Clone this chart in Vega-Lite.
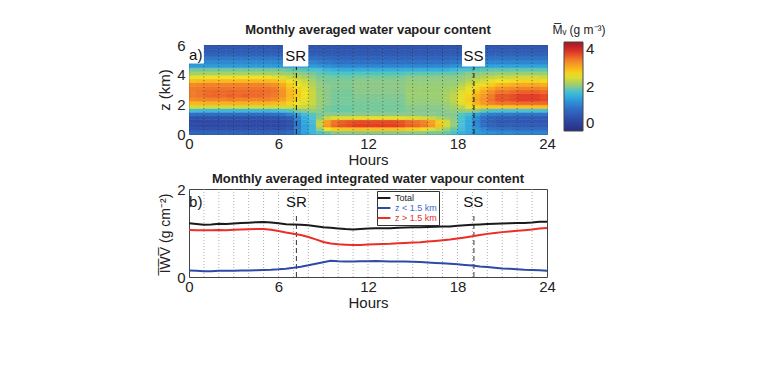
{
"$schema":"https://vega.github.io/schema/vega-lite/v6.json",
"padding":{"top":23,"left":157,"right":0,"bottom":0},
"spacing":4,
"config":{"font":"Liberation Sans","view":{"stroke":"#444","strokeWidth":1},
"axis":{"domain":false,"ticks":false,"grid":false,"labelFontSize":15,"titleFontSize":15,"titleFontWeight":"normal","labelColor":"#222","titleColor":"#222","labelFlush":false},
"title":{"fontSize":13,"fontWeight":"bold","color":"#222"}},
"resolve":{"scale":{"color":"independent","x":"independent","y":"independent"},"legend":{"color":"independent"}},
"datasets":{
"hrs":[{"t":1},{"t":2},{"t":3},{"t":4},{"t":5},{"t":6},{"t":7},{"t":8},{"t":9},{"t":10},{"t":11},{"t":12},{"t":13},{"t":14},{"t":15},{"t":16},{"t":17},{"t":18},{"t":19},{"t":20},{"t":21},{"t":22},{"t":23}],
"mk":[{"t":7.2,"lab":"SR"},{"t":19.1,"lab":"SS"}],
"box":[{"lab":"a)","x0":0,"x1":1.0,"y0":4.75,"y1":6,"tx":0.45,"ty":5.35},{"lab":"SR","x0":6.3,"x1":8.0,"y0":4.55,"y1":6,"tx":7.15,"ty":5.25},{"lab":"SS","x0":18.3,"x1":19.85,"y0":4.55,"y1":6,"tx":19.07,"ty":5.25}],
"lblb":[{"lab":"b)","tx":0.45,"ty":1.7},{"lab":"SR","tx":7.2,"ty":1.7},{"lab":"SS","tx":19.05,"ty":1.7}],
"iwv":[
{"t":0,"s":"Total","w":1.22},{"t":0.5,"s":"Total","w":1.205},{"t":1,"s":"Total","w":1.19},{"t":1.5,"s":"Total","w":1.195},{"t":2,"s":"Total","w":1.21},{"t":2.5,"s":"Total","w":1.205},{"t":3,"s":"Total","w":1.215},{"t":3.5,"s":"Total","w":1.225},{"t":4,"s":"Total","w":1.235},{"t":4.5,"s":"Total","w":1.245},{"t":5,"s":"Total","w":1.25},{"t":5.5,"s":"Total","w":1.24},{"t":6,"s":"Total","w":1.22},{"t":6.5,"s":"Total","w":1.2},{"t":7,"s":"Total","w":1.195},{"t":7.5,"s":"Total","w":1.19},{"t":8,"s":"Total","w":1.175},{"t":8.5,"s":"Total","w":1.155},{"t":9,"s":"Total","w":1.13},{"t":9.5,"s":"Total","w":1.12},{"t":10,"s":"Total","w":1.105},{"t":10.5,"s":"Total","w":1.09},{"t":11,"s":"Total","w":1.08},{"t":11.5,"s":"Total","w":1.09},{"t":12,"s":"Total","w":1.1},{"t":12.5,"s":"Total","w":1.11},{"t":13,"s":"Total","w":1.11},{"t":13.5,"s":"Total","w":1.11},{"t":14,"s":"Total","w":1.12},{"t":14.5,"s":"Total","w":1.125},{"t":15,"s":"Total","w":1.13},{"t":15.5,"s":"Total","w":1.13},{"t":16,"s":"Total","w":1.135},{"t":16.5,"s":"Total","w":1.14},{"t":17,"s":"Total","w":1.145},{"t":17.5,"s":"Total","w":1.15},{"t":18,"s":"Total","w":1.165},{"t":18.5,"s":"Total","w":1.175},{"t":19,"s":"Total","w":1.185},{"t":19.5,"s":"Total","w":1.195},{"t":20,"s":"Total","w":1.205},{"t":20.5,"s":"Total","w":1.21},{"t":21,"s":"Total","w":1.215},{"t":21.5,"s":"Total","w":1.22},{"t":22,"s":"Total","w":1.225},{"t":22.5,"s":"Total","w":1.23},{"t":23,"s":"Total","w":1.24},{"t":23.5,"s":"Total","w":1.255},{"t":24,"s":"Total","w":1.255},
{"t":0,"s":"z < 1.5 km","w":0.15},{"t":0.5,"s":"z < 1.5 km","w":0.14},{"t":1,"s":"z < 1.5 km","w":0.13},{"t":1.5,"s":"z < 1.5 km","w":0.13},{"t":2,"s":"z < 1.5 km","w":0.14},{"t":2.5,"s":"z < 1.5 km","w":0.14},{"t":3,"s":"z < 1.5 km","w":0.14},{"t":3.5,"s":"z < 1.5 km","w":0.145},{"t":4,"s":"z < 1.5 km","w":0.15},{"t":4.5,"s":"z < 1.5 km","w":0.155},{"t":5,"s":"z < 1.5 km","w":0.16},{"t":5.5,"s":"z < 1.5 km","w":0.165},{"t":6,"s":"z < 1.5 km","w":0.175},{"t":6.5,"s":"z < 1.5 km","w":0.19},{"t":7,"s":"z < 1.5 km","w":0.21},{"t":7.5,"s":"z < 1.5 km","w":0.235},{"t":8,"s":"z < 1.5 km","w":0.265},{"t":8.5,"s":"z < 1.5 km","w":0.3},{"t":9,"s":"z < 1.5 km","w":0.335},{"t":9.5,"s":"z < 1.5 km","w":0.37},{"t":10,"s":"z < 1.5 km","w":0.36},{"t":10.5,"s":"z < 1.5 km","w":0.355},{"t":11,"s":"z < 1.5 km","w":0.355},{"t":11.5,"s":"z < 1.5 km","w":0.36},{"t":12,"s":"z < 1.5 km","w":0.36},{"t":12.5,"s":"z < 1.5 km","w":0.365},{"t":13,"s":"z < 1.5 km","w":0.36},{"t":13.5,"s":"z < 1.5 km","w":0.355},{"t":14,"s":"z < 1.5 km","w":0.355},{"t":14.5,"s":"z < 1.5 km","w":0.35},{"t":15,"s":"z < 1.5 km","w":0.345},{"t":15.5,"s":"z < 1.5 km","w":0.34},{"t":16,"s":"z < 1.5 km","w":0.33},{"t":16.5,"s":"z < 1.5 km","w":0.32},{"t":17,"s":"z < 1.5 km","w":0.31},{"t":17.5,"s":"z < 1.5 km","w":0.3},{"t":18,"s":"z < 1.5 km","w":0.29},{"t":18.5,"s":"z < 1.5 km","w":0.275},{"t":19,"s":"z < 1.5 km","w":0.26},{"t":19.5,"s":"z < 1.5 km","w":0.24},{"t":20,"s":"z < 1.5 km","w":0.225},{"t":20.5,"s":"z < 1.5 km","w":0.21},{"t":21,"s":"z < 1.5 km","w":0.195},{"t":21.5,"s":"z < 1.5 km","w":0.185},{"t":22,"s":"z < 1.5 km","w":0.175},{"t":22.5,"s":"z < 1.5 km","w":0.165},{"t":23,"s":"z < 1.5 km","w":0.16},{"t":23.5,"s":"z < 1.5 km","w":0.155},{"t":24,"s":"z < 1.5 km","w":0.14},
{"t":0,"s":"z > 1.5 km","w":1.07},{"t":0.5,"s":"z > 1.5 km","w":1.065},{"t":1,"s":"z > 1.5 km","w":1.06},{"t":1.5,"s":"z > 1.5 km","w":1.065},{"t":2,"s":"z > 1.5 km","w":1.07},{"t":2.5,"s":"z > 1.5 km","w":1.065},{"t":3,"s":"z > 1.5 km","w":1.075},{"t":3.5,"s":"z > 1.5 km","w":1.08},{"t":4,"s":"z > 1.5 km","w":1.085},{"t":4.5,"s":"z > 1.5 km","w":1.09},{"t":5,"s":"z > 1.5 km","w":1.09},{"t":5.5,"s":"z > 1.5 km","w":1.075},{"t":6,"s":"z > 1.5 km","w":1.045},{"t":6.5,"s":"z > 1.5 km","w":1.01},{"t":7,"s":"z > 1.5 km","w":0.985},{"t":7.5,"s":"z > 1.5 km","w":0.955},{"t":8,"s":"z > 1.5 km","w":0.91},{"t":8.5,"s":"z > 1.5 km","w":0.855},{"t":9,"s":"z > 1.5 km","w":0.795},{"t":9.5,"s":"z > 1.5 km","w":0.76},{"t":10,"s":"z > 1.5 km","w":0.745},{"t":10.5,"s":"z > 1.5 km","w":0.735},{"t":11,"s":"z > 1.5 km","w":0.725},{"t":11.5,"s":"z > 1.5 km","w":0.73},{"t":12,"s":"z > 1.5 km","w":0.74},{"t":12.5,"s":"z > 1.5 km","w":0.745},{"t":13,"s":"z > 1.5 km","w":0.75},{"t":13.5,"s":"z > 1.5 km","w":0.755},{"t":14,"s":"z > 1.5 km","w":0.765},{"t":14.5,"s":"z > 1.5 km","w":0.775},{"t":15,"s":"z > 1.5 km","w":0.785},{"t":15.5,"s":"z > 1.5 km","w":0.79},{"t":16,"s":"z > 1.5 km","w":0.805},{"t":16.5,"s":"z > 1.5 km","w":0.82},{"t":17,"s":"z > 1.5 km","w":0.835},{"t":17.5,"s":"z > 1.5 km","w":0.85},{"t":18,"s":"z > 1.5 km","w":0.875},{"t":18.5,"s":"z > 1.5 km","w":0.9},{"t":19,"s":"z > 1.5 km","w":0.925},{"t":19.5,"s":"z > 1.5 km","w":0.955},{"t":20,"s":"z > 1.5 km","w":0.98},{"t":20.5,"s":"z > 1.5 km","w":1.0},{"t":21,"s":"z > 1.5 km","w":1.02},{"t":21.5,"s":"z > 1.5 km","w":1.035},{"t":22,"s":"z > 1.5 km","w":1.05},{"t":22.5,"s":"z > 1.5 km","w":1.065},{"t":23,"s":"z > 1.5 km","w":1.08},{"t":23.5,"s":"z > 1.5 km","w":1.1},{"t":24,"s":"z > 1.5 km","w":1.115}
],
"wv":[
{"t":0,"z":0,"v":0.9},{"t":0,"z":0.25,"v":0.62},{"t":0,"z":0.5,"v":0.52},{"t":0,"z":0.75,"v":0.52},{"t":0,"z":1,"v":0.62},{"t":0,"z":1.25,"v":1.0},{"t":0,"z":1.5,"v":1.7},{"t":0,"z":1.75,"v":2.35},{"t":0,"z":2,"v":2.8},{"t":0,"z":2.25,"v":3.1},{"t":0,"z":2.5,"v":3.2},{"t":0,"z":2.75,"v":3.2},{"t":0,"z":3,"v":3.2},{"t":0,"z":3.25,"v":3.1},{"t":0,"z":3.5,"v":2.75},{"t":0,"z":3.75,"v":2.45},{"t":0,"z":4,"v":2.15},{"t":0,"z":4.25,"v":1.95},{"t":0,"z":4.5,"v":1.4},{"t":0,"z":4.75,"v":1.25},{"t":0,"z":5,"v":1.1},{"t":0,"z":5.25,"v":0.85},{"t":0,"z":5.5,"v":0.72},{"t":0,"z":5.75,"v":0.68},
{"t":0.5,"z":0,"v":0.88},{"t":0.5,"z":0.25,"v":0.6},{"t":0.5,"z":0.5,"v":0.5},{"t":0.5,"z":0.75,"v":0.5},{"t":0.5,"z":1,"v":0.6},{"t":0.5,"z":1.25,"v":0.97},{"t":0.5,"z":1.5,"v":1.68},{"t":0.5,"z":1.75,"v":2.35},{"t":0.5,"z":2,"v":2.82},{"t":0.5,"z":2.25,"v":3.12},{"t":0.5,"z":2.5,"v":3.25},{"t":0.5,"z":2.75,"v":3.25},{"t":0.5,"z":3,"v":3.22},{"t":0.5,"z":3.25,"v":3.12},{"t":0.5,"z":3.5,"v":2.78},{"t":0.5,"z":3.75,"v":2.48},{"t":0.5,"z":4,"v":2.15},{"t":0.5,"z":4.25,"v":1.95},{"t":0.5,"z":4.5,"v":1.4},{"t":0.5,"z":4.75,"v":1.25},{"t":0.5,"z":5,"v":1.1},{"t":0.5,"z":5.25,"v":0.85},{"t":0.5,"z":5.5,"v":0.72},{"t":0.5,"z":5.75,"v":0.68},
{"t":1,"z":0,"v":0.85},{"t":1,"z":0.25,"v":0.6},{"t":1,"z":0.5,"v":0.5},{"t":1,"z":0.75,"v":0.5},{"t":1,"z":1,"v":0.6},{"t":1,"z":1.25,"v":0.95},{"t":1,"z":1.5,"v":1.65},{"t":1,"z":1.75,"v":2.35},{"t":1,"z":2,"v":2.85},{"t":1,"z":2.25,"v":3.15},{"t":1,"z":2.5,"v":3.3},{"t":1,"z":2.75,"v":3.3},{"t":1,"z":3,"v":3.25},{"t":1,"z":3.25,"v":3.15},{"t":1,"z":3.5,"v":2.8},{"t":1,"z":3.75,"v":2.5},{"t":1,"z":4,"v":2.15},{"t":1,"z":4.25,"v":1.95},{"t":1,"z":4.5,"v":1.4},{"t":1,"z":4.75,"v":1.25},{"t":1,"z":5,"v":1.1},{"t":1,"z":5.25,"v":0.85},{"t":1,"z":5.5,"v":0.72},{"t":1,"z":5.75,"v":0.68},
{"t":1.5,"z":0,"v":0.85},{"t":1.5,"z":0.25,"v":0.6},{"t":1.5,"z":0.5,"v":0.5},{"t":1.5,"z":0.75,"v":0.5},{"t":1.5,"z":1,"v":0.6},{"t":1.5,"z":1.25,"v":0.95},{"t":1.5,"z":1.5,"v":1.65},{"t":1.5,"z":1.75,"v":2.35},{"t":1.5,"z":2,"v":2.85},{"t":1.5,"z":2.25,"v":3.15},{"t":1.5,"z":2.5,"v":3.32},{"t":1.5,"z":2.75,"v":3.32},{"t":1.5,"z":3,"v":3.25},{"t":1.5,"z":3.25,"v":3.15},{"t":1.5,"z":3.5,"v":2.8},{"t":1.5,"z":3.75,"v":2.5},{"t":1.5,"z":4,"v":2.15},{"t":1.5,"z":4.25,"v":1.95},{"t":1.5,"z":4.5,"v":1.4},{"t":1.5,"z":4.75,"v":1.25},{"t":1.5,"z":5,"v":1.1},{"t":1.5,"z":5.25,"v":0.85},{"t":1.5,"z":5.5,"v":0.72},{"t":1.5,"z":5.75,"v":0.68},
{"t":2,"z":0,"v":0.85},{"t":2,"z":0.25,"v":0.6},{"t":2,"z":0.5,"v":0.5},{"t":2,"z":0.75,"v":0.5},{"t":2,"z":1,"v":0.6},{"t":2,"z":1.25,"v":0.95},{"t":2,"z":1.5,"v":1.65},{"t":2,"z":1.75,"v":2.35},{"t":2,"z":2,"v":2.85},{"t":2,"z":2.25,"v":3.15},{"t":2,"z":2.5,"v":3.3},{"t":2,"z":2.75,"v":3.3},{"t":2,"z":3,"v":3.25},{"t":2,"z":3.25,"v":3.15},{"t":2,"z":3.5,"v":2.8},{"t":2,"z":3.75,"v":2.5},{"t":2,"z":4,"v":2.15},{"t":2,"z":4.25,"v":1.95},{"t":2,"z":4.5,"v":1.4},{"t":2,"z":4.75,"v":1.25},{"t":2,"z":5,"v":1.1},{"t":2,"z":5.25,"v":0.85},{"t":2,"z":5.5,"v":0.72},{"t":2,"z":5.75,"v":0.68},
{"t":2.5,"z":0,"v":0.85},{"t":2.5,"z":0.25,"v":0.6},{"t":2.5,"z":0.5,"v":0.5},{"t":2.5,"z":0.75,"v":0.5},{"t":2.5,"z":1,"v":0.6},{"t":2.5,"z":1.25,"v":0.95},{"t":2.5,"z":1.5,"v":1.65},{"t":2.5,"z":1.75,"v":2.35},{"t":2.5,"z":2,"v":2.85},{"t":2.5,"z":2.25,"v":3.2},{"t":2.5,"z":2.5,"v":3.35},{"t":2.5,"z":2.75,"v":3.32},{"t":2.5,"z":3,"v":3.25},{"t":2.5,"z":3.25,"v":3.15},{"t":2.5,"z":3.5,"v":2.8},{"t":2.5,"z":3.75,"v":2.5},{"t":2.5,"z":4,"v":2.15},{"t":2.5,"z":4.25,"v":1.95},{"t":2.5,"z":4.5,"v":1.4},{"t":2.5,"z":4.75,"v":1.25},{"t":2.5,"z":5,"v":1.1},{"t":2.5,"z":5.25,"v":0.85},{"t":2.5,"z":5.5,"v":0.72},{"t":2.5,"z":5.75,"v":0.68},
{"t":3,"z":0,"v":0.85},{"t":3,"z":0.25,"v":0.6},{"t":3,"z":0.5,"v":0.5},{"t":3,"z":0.75,"v":0.5},{"t":3,"z":1,"v":0.6},{"t":3,"z":1.25,"v":0.95},{"t":3,"z":1.5,"v":1.65},{"t":3,"z":1.75,"v":2.35},{"t":3,"z":2,"v":2.85},{"t":3,"z":2.25,"v":3.15},{"t":3,"z":2.5,"v":3.3},{"t":3,"z":2.75,"v":3.3},{"t":3,"z":3,"v":3.25},{"t":3,"z":3.25,"v":3.15},{"t":3,"z":3.5,"v":2.8},{"t":3,"z":3.75,"v":2.5},{"t":3,"z":4,"v":2.15},{"t":3,"z":4.25,"v":1.95},{"t":3,"z":4.5,"v":1.4},{"t":3,"z":4.75,"v":1.25},{"t":3,"z":5,"v":1.1},{"t":3,"z":5.25,"v":0.85},{"t":3,"z":5.5,"v":0.72},{"t":3,"z":5.75,"v":0.68},
{"t":3.5,"z":0,"v":0.85},{"t":3.5,"z":0.25,"v":0.6},{"t":3.5,"z":0.5,"v":0.5},{"t":3.5,"z":0.75,"v":0.5},{"t":3.5,"z":1,"v":0.6},{"t":3.5,"z":1.25,"v":0.95},{"t":3.5,"z":1.5,"v":1.65},{"t":3.5,"z":1.75,"v":2.35},{"t":3.5,"z":2,"v":2.85},{"t":3.5,"z":2.25,"v":3.15},{"t":3.5,"z":2.5,"v":3.35},{"t":3.5,"z":2.75,"v":3.3},{"t":3.5,"z":3,"v":3.25},{"t":3.5,"z":3.25,"v":3.15},{"t":3.5,"z":3.5,"v":2.8},{"t":3.5,"z":3.75,"v":2.5},{"t":3.5,"z":4,"v":2.15},{"t":3.5,"z":4.25,"v":1.95},{"t":3.5,"z":4.5,"v":1.4},{"t":3.5,"z":4.75,"v":1.25},{"t":3.5,"z":5,"v":1.1},{"t":3.5,"z":5.25,"v":0.85},{"t":3.5,"z":5.5,"v":0.72},{"t":3.5,"z":5.75,"v":0.68},
{"t":4,"z":0,"v":0.85},{"t":4,"z":0.25,"v":0.6},{"t":4,"z":0.5,"v":0.5},{"t":4,"z":0.75,"v":0.5},{"t":4,"z":1,"v":0.6},{"t":4,"z":1.25,"v":0.95},{"t":4,"z":1.5,"v":1.65},{"t":4,"z":1.75,"v":2.35},{"t":4,"z":2,"v":2.85},{"t":4,"z":2.25,"v":3.15},{"t":4,"z":2.5,"v":3.3},{"t":4,"z":2.75,"v":3.3},{"t":4,"z":3,"v":3.25},{"t":4,"z":3.25,"v":3.15},{"t":4,"z":3.5,"v":2.8},{"t":4,"z":3.75,"v":2.5},{"t":4,"z":4,"v":2.15},{"t":4,"z":4.25,"v":1.95},{"t":4,"z":4.5,"v":1.4},{"t":4,"z":4.75,"v":1.25},{"t":4,"z":5,"v":1.1},{"t":4,"z":5.25,"v":0.85},{"t":4,"z":5.5,"v":0.72},{"t":4,"z":5.75,"v":0.68},
{"t":4.5,"z":0,"v":0.85},{"t":4.5,"z":0.25,"v":0.6},{"t":4.5,"z":0.5,"v":0.5},{"t":4.5,"z":0.75,"v":0.5},{"t":4.5,"z":1,"v":0.6},{"t":4.5,"z":1.25,"v":0.95},{"t":4.5,"z":1.5,"v":1.65},{"t":4.5,"z":1.75,"v":2.35},{"t":4.5,"z":2,"v":2.85},{"t":4.5,"z":2.25,"v":3.15},{"t":4.5,"z":2.5,"v":3.3},{"t":4.5,"z":2.75,"v":3.3},{"t":4.5,"z":3,"v":3.25},{"t":4.5,"z":3.25,"v":3.15},{"t":4.5,"z":3.5,"v":2.8},{"t":4.5,"z":3.75,"v":2.5},{"t":4.5,"z":4,"v":2.15},{"t":4.5,"z":4.25,"v":1.95},{"t":4.5,"z":4.5,"v":1.4},{"t":4.5,"z":4.75,"v":1.25},{"t":4.5,"z":5,"v":1.1},{"t":4.5,"z":5.25,"v":0.85},{"t":4.5,"z":5.5,"v":0.72},{"t":4.5,"z":5.75,"v":0.68},
{"t":5,"z":0,"v":0.85},{"t":5,"z":0.25,"v":0.6},{"t":5,"z":0.5,"v":0.5},{"t":5,"z":0.75,"v":0.5},{"t":5,"z":1,"v":0.6},{"t":5,"z":1.25,"v":0.95},{"t":5,"z":1.5,"v":1.65},{"t":5,"z":1.75,"v":2.35},{"t":5,"z":2,"v":2.85},{"t":5,"z":2.25,"v":3.15},{"t":5,"z":2.5,"v":3.25},{"t":5,"z":2.75,"v":3.28},{"t":5,"z":3,"v":3.25},{"t":5,"z":3.25,"v":3.1},{"t":5,"z":3.5,"v":2.8},{"t":5,"z":3.75,"v":2.5},{"t":5,"z":4,"v":2.15},{"t":5,"z":4.25,"v":1.95},{"t":5,"z":4.5,"v":1.4},{"t":5,"z":4.75,"v":1.25},{"t":5,"z":5,"v":1.1},{"t":5,"z":5.25,"v":0.85},{"t":5,"z":5.5,"v":0.72},{"t":5,"z":5.75,"v":0.68},
{"t":5.5,"z":0,"v":0.85},{"t":5.5,"z":0.25,"v":0.6},{"t":5.5,"z":0.5,"v":0.5},{"t":5.5,"z":0.75,"v":0.5},{"t":5.5,"z":1,"v":0.62},{"t":5.5,"z":1.25,"v":1.0},{"t":5.5,"z":1.5,"v":1.7},{"t":5.5,"z":1.75,"v":2.35},{"t":5.5,"z":2,"v":2.8},{"t":5.5,"z":2.25,"v":3.1},{"t":5.5,"z":2.5,"v":3.2},{"t":5.5,"z":2.75,"v":3.25},{"t":5.5,"z":3,"v":3.2},{"t":5.5,"z":3.25,"v":3.05},{"t":5.5,"z":3.5,"v":2.75},{"t":5.5,"z":3.75,"v":2.45},{"t":5.5,"z":4,"v":2.15},{"t":5.5,"z":4.25,"v":1.95},{"t":5.5,"z":4.5,"v":1.4},{"t":5.5,"z":4.75,"v":1.25},{"t":5.5,"z":5,"v":1.1},{"t":5.5,"z":5.25,"v":0.85},{"t":5.5,"z":5.5,"v":0.72},{"t":5.5,"z":5.75,"v":0.68},
{"t":6,"z":0,"v":0.88},{"t":6,"z":0.25,"v":0.62},{"t":6,"z":0.5,"v":0.52},{"t":6,"z":0.75,"v":0.52},{"t":6,"z":1,"v":0.65},{"t":6,"z":1.25,"v":1.05},{"t":6,"z":1.5,"v":1.75},{"t":6,"z":1.75,"v":2.35},{"t":6,"z":2,"v":2.75},{"t":6,"z":2.25,"v":2.95},{"t":6,"z":2.5,"v":3.05},{"t":6,"z":2.75,"v":3.05},{"t":6,"z":3,"v":3.0},{"t":6,"z":3.25,"v":2.9},{"t":6,"z":3.5,"v":2.65},{"t":6,"z":3.75,"v":2.4},{"t":6,"z":4,"v":2.1},{"t":6,"z":4.25,"v":1.95},{"t":6,"z":4.5,"v":1.4},{"t":6,"z":4.75,"v":1.25},{"t":6,"z":5,"v":1.1},{"t":6,"z":5.25,"v":0.85},{"t":6,"z":5.5,"v":0.72},{"t":6,"z":5.75,"v":0.68},
{"t":6.5,"z":0,"v":0.95},{"t":6.5,"z":0.25,"v":0.7},{"t":6.5,"z":0.5,"v":0.6},{"t":6.5,"z":0.75,"v":0.6},{"t":6.5,"z":1,"v":0.75},{"t":6.5,"z":1.25,"v":1.2},{"t":6.5,"z":1.5,"v":1.85},{"t":6.5,"z":1.75,"v":2.35},{"t":6.5,"z":2,"v":2.6},{"t":6.5,"z":2.25,"v":2.75},{"t":6.5,"z":2.5,"v":2.8},{"t":6.5,"z":2.75,"v":2.8},{"t":6.5,"z":3,"v":2.75},{"t":6.5,"z":3.25,"v":2.65},{"t":6.5,"z":3.5,"v":2.5},{"t":6.5,"z":3.75,"v":2.3},{"t":6.5,"z":4,"v":2.1},{"t":6.5,"z":4.25,"v":1.9},{"t":6.5,"z":4.5,"v":1.4},{"t":6.5,"z":4.75,"v":1.25},{"t":6.5,"z":5,"v":1.1},{"t":6.5,"z":5.25,"v":0.85},{"t":6.5,"z":5.5,"v":0.72},{"t":6.5,"z":5.75,"v":0.68},
{"t":7,"z":0,"v":1.2},{"t":7,"z":0.25,"v":1.15},{"t":7,"z":0.5,"v":1.1},{"t":7,"z":0.75,"v":1.1},{"t":7,"z":1,"v":1.2},{"t":7,"z":1.25,"v":1.45},{"t":7,"z":1.5,"v":1.95},{"t":7,"z":1.75,"v":2.35},{"t":7,"z":2,"v":2.5},{"t":7,"z":2.25,"v":2.6},{"t":7,"z":2.5,"v":2.65},{"t":7,"z":2.75,"v":2.65},{"t":7,"z":3,"v":2.6},{"t":7,"z":3.25,"v":2.5},{"t":7,"z":3.5,"v":2.4},{"t":7,"z":3.75,"v":2.25},{"t":7,"z":4,"v":2.05},{"t":7,"z":4.25,"v":1.9},{"t":7,"z":4.5,"v":1.4},{"t":7,"z":4.75,"v":1.25},{"t":7,"z":5,"v":1.1},{"t":7,"z":5.25,"v":0.85},{"t":7,"z":5.5,"v":0.72},{"t":7,"z":5.75,"v":0.68},
{"t":7.5,"z":0,"v":1.45},{"t":7.5,"z":0.25,"v":1.45},{"t":7.5,"z":0.5,"v":1.45},{"t":7.5,"z":0.75,"v":1.5},{"t":7.5,"z":1,"v":1.55},{"t":7.5,"z":1.25,"v":1.7},{"t":7.5,"z":1.5,"v":2.0},{"t":7.5,"z":1.75,"v":2.3},{"t":7.5,"z":2,"v":2.4},{"t":7.5,"z":2.25,"v":2.45},{"t":7.5,"z":2.5,"v":2.5},{"t":7.5,"z":2.75,"v":2.5},{"t":7.5,"z":3,"v":2.45},{"t":7.5,"z":3.25,"v":2.4},{"t":7.5,"z":3.5,"v":2.3},{"t":7.5,"z":3.75,"v":2.15},{"t":7.5,"z":4,"v":2.0},{"t":7.5,"z":4.25,"v":1.85},{"t":7.5,"z":4.5,"v":1.4},{"t":7.5,"z":4.75,"v":1.22},{"t":7.5,"z":5,"v":1.05},{"t":7.5,"z":5.25,"v":0.83},{"t":7.5,"z":5.5,"v":0.72},{"t":7.5,"z":5.75,"v":0.68},
{"t":8,"z":0,"v":1.65},{"t":8,"z":0.25,"v":1.65},{"t":8,"z":0.5,"v":1.65},{"t":8,"z":0.75,"v":1.7},{"t":8,"z":1,"v":1.75},{"t":8,"z":1.25,"v":1.85},{"t":8,"z":1.5,"v":2.05},{"t":8,"z":1.75,"v":2.2},{"t":8,"z":2,"v":2.3},{"t":8,"z":2.25,"v":2.3},{"t":8,"z":2.5,"v":2.3},{"t":8,"z":2.75,"v":2.3},{"t":8,"z":3,"v":2.25},{"t":8,"z":3.25,"v":2.2},{"t":8,"z":3.5,"v":2.15},{"t":8,"z":3.75,"v":2.05},{"t":8,"z":4,"v":1.95},{"t":8,"z":4.25,"v":1.8},{"t":8,"z":4.5,"v":1.38},{"t":8,"z":4.75,"v":1.2},{"t":8,"z":5,"v":1.0},{"t":8,"z":5.25,"v":0.8},{"t":8,"z":5.5,"v":0.7},{"t":8,"z":5.75,"v":0.66},
{"t":8.5,"z":0,"v":1.8},{"t":8.5,"z":0.25,"v":2.05},{"t":8.5,"z":0.5,"v":2.25},{"t":8.5,"z":0.75,"v":2.25},{"t":8.5,"z":1,"v":2.0},{"t":8.5,"z":1.25,"v":1.95},{"t":8.5,"z":1.5,"v":2.0},{"t":8.5,"z":1.75,"v":2.05},{"t":8.5,"z":2,"v":2.1},{"t":8.5,"z":2.25,"v":2.1},{"t":8.5,"z":2.5,"v":2.1},{"t":8.5,"z":2.75,"v":2.1},{"t":8.5,"z":3,"v":2.05},{"t":8.5,"z":3.25,"v":2.05},{"t":8.5,"z":3.5,"v":2.0},{"t":8.5,"z":3.75,"v":1.95},{"t":8.5,"z":4,"v":1.9},{"t":8.5,"z":4.25,"v":1.75},{"t":8.5,"z":4.5,"v":1.35},{"t":8.5,"z":4.75,"v":1.15},{"t":8.5,"z":5,"v":0.97},{"t":8.5,"z":5.25,"v":0.8},{"t":8.5,"z":5.5,"v":0.7},{"t":8.5,"z":5.75,"v":0.66},
{"t":9,"z":0,"v":1.9},{"t":9,"z":0.25,"v":2.5},{"t":9,"z":0.5,"v":3.0},{"t":9,"z":0.75,"v":2.95},{"t":9,"z":1,"v":2.3},{"t":9,"z":1.25,"v":2.0},{"t":9,"z":1.5,"v":1.95},{"t":9,"z":1.75,"v":1.95},{"t":9,"z":2,"v":2.0},{"t":9,"z":2.25,"v":2.0},{"t":9,"z":2.5,"v":2.0},{"t":9,"z":2.75,"v":2.0},{"t":9,"z":3,"v":2.0},{"t":9,"z":3.25,"v":2.0},{"t":9,"z":3.5,"v":1.95},{"t":9,"z":3.75,"v":1.95},{"t":9,"z":4,"v":1.85},{"t":9,"z":4.25,"v":1.65},{"t":9,"z":4.5,"v":1.3},{"t":9,"z":4.75,"v":1.1},{"t":9,"z":5,"v":0.93},{"t":9,"z":5.25,"v":0.78},{"t":9,"z":5.5,"v":0.7},{"t":9,"z":5.75,"v":0.65},
{"t":9.5,"z":0,"v":2.0},{"t":9.5,"z":0.25,"v":2.65},{"t":9.5,"z":0.5,"v":3.3},{"t":9.5,"z":0.75,"v":3.25},{"t":9.5,"z":1,"v":2.4},{"t":9.5,"z":1.25,"v":2.0},{"t":9.5,"z":1.5,"v":1.92},{"t":9.5,"z":1.75,"v":1.92},{"t":9.5,"z":2,"v":1.95},{"t":9.5,"z":2.25,"v":1.95},{"t":9.5,"z":2.5,"v":1.95},{"t":9.5,"z":2.75,"v":1.95},{"t":9.5,"z":3,"v":1.97},{"t":9.5,"z":3.25,"v":1.97},{"t":9.5,"z":3.5,"v":1.97},{"t":9.5,"z":3.75,"v":1.92},{"t":9.5,"z":4,"v":1.82},{"t":9.5,"z":4.25,"v":1.6},{"t":9.5,"z":4.5,"v":1.25},{"t":9.5,"z":4.75,"v":1.05},{"t":9.5,"z":5,"v":0.9},{"t":9.5,"z":5.25,"v":0.76},{"t":9.5,"z":5.5,"v":0.68},{"t":9.5,"z":5.75,"v":0.64},
{"t":10,"z":0,"v":2.0},{"t":10,"z":0.25,"v":2.7},{"t":10,"z":0.5,"v":3.4},{"t":10,"z":0.75,"v":3.35},{"t":10,"z":1,"v":2.4},{"t":10,"z":1.25,"v":2.0},{"t":10,"z":1.5,"v":1.92},{"t":10,"z":1.75,"v":1.92},{"t":10,"z":2,"v":1.95},{"t":10,"z":2.25,"v":1.95},{"t":10,"z":2.5,"v":1.95},{"t":10,"z":2.75,"v":1.95},{"t":10,"z":3,"v":1.97},{"t":10,"z":3.25,"v":1.97},{"t":10,"z":3.5,"v":1.97},{"t":10,"z":3.75,"v":1.92},{"t":10,"z":4,"v":1.82},{"t":10,"z":4.25,"v":1.55},{"t":10,"z":4.5,"v":1.22},{"t":10,"z":4.75,"v":1.03},{"t":10,"z":5,"v":0.88},{"t":10,"z":5.25,"v":0.75},{"t":10,"z":5.5,"v":0.68},{"t":10,"z":5.75,"v":0.64},
{"t":10.5,"z":0,"v":2.0},{"t":10.5,"z":0.25,"v":2.7},{"t":10.5,"z":0.5,"v":3.45},{"t":10.5,"z":0.75,"v":3.4},{"t":10.5,"z":1,"v":2.4},{"t":10.5,"z":1.25,"v":2.0},{"t":10.5,"z":1.5,"v":1.92},{"t":10.5,"z":1.75,"v":1.92},{"t":10.5,"z":2,"v":1.95},{"t":10.5,"z":2.25,"v":1.95},{"t":10.5,"z":2.5,"v":1.95},{"t":10.5,"z":2.75,"v":1.95},{"t":10.5,"z":3,"v":1.97},{"t":10.5,"z":3.25,"v":1.97},{"t":10.5,"z":3.5,"v":1.97},{"t":10.5,"z":3.75,"v":1.92},{"t":10.5,"z":4,"v":1.82},{"t":10.5,"z":4.25,"v":1.55},{"t":10.5,"z":4.5,"v":1.22},{"t":10.5,"z":4.75,"v":1.03},{"t":10.5,"z":5,"v":0.88},{"t":10.5,"z":5.25,"v":0.75},{"t":10.5,"z":5.5,"v":0.68},{"t":10.5,"z":5.75,"v":0.64},
{"t":11,"z":0,"v":2.0},{"t":11,"z":0.25,"v":2.75},{"t":11,"z":0.5,"v":3.5},{"t":11,"z":0.75,"v":3.45},{"t":11,"z":1,"v":2.45},{"t":11,"z":1.25,"v":2.0},{"t":11,"z":1.5,"v":1.95},{"t":11,"z":1.75,"v":1.95},{"t":11,"z":2,"v":1.95},{"t":11,"z":2.25,"v":1.97},{"t":11,"z":2.5,"v":1.97},{"t":11,"z":2.75,"v":2.0},{"t":11,"z":3,"v":2.0},{"t":11,"z":3.25,"v":2.0},{"t":11,"z":3.5,"v":2.0},{"t":11,"z":3.75,"v":1.95},{"t":11,"z":4,"v":1.85},{"t":11,"z":4.25,"v":1.58},{"t":11,"z":4.5,"v":1.22},{"t":11,"z":4.75,"v":1.03},{"t":11,"z":5,"v":0.88},{"t":11,"z":5.25,"v":0.75},{"t":11,"z":5.5,"v":0.68},{"t":11,"z":5.75,"v":0.64},
{"t":11.5,"z":0,"v":2.0},{"t":11.5,"z":0.25,"v":2.75},{"t":11.5,"z":0.5,"v":3.5},{"t":11.5,"z":0.75,"v":3.45},{"t":11.5,"z":1,"v":2.45},{"t":11.5,"z":1.25,"v":2.0},{"t":11.5,"z":1.5,"v":1.95},{"t":11.5,"z":1.75,"v":1.95},{"t":11.5,"z":2,"v":1.95},{"t":11.5,"z":2.25,"v":1.97},{"t":11.5,"z":2.5,"v":1.97},{"t":11.5,"z":2.75,"v":2.0},{"t":11.5,"z":3,"v":2.0},{"t":11.5,"z":3.25,"v":2.0},{"t":11.5,"z":3.5,"v":2.0},{"t":11.5,"z":3.75,"v":1.95},{"t":11.5,"z":4,"v":1.85},{"t":11.5,"z":4.25,"v":1.58},{"t":11.5,"z":4.5,"v":1.22},{"t":11.5,"z":4.75,"v":1.03},{"t":11.5,"z":5,"v":0.88},{"t":11.5,"z":5.25,"v":0.75},{"t":11.5,"z":5.5,"v":0.68},{"t":11.5,"z":5.75,"v":0.64},
{"t":12,"z":0,"v":2.0},{"t":12,"z":0.25,"v":2.75},{"t":12,"z":0.5,"v":3.5},{"t":12,"z":0.75,"v":3.45},{"t":12,"z":1,"v":2.45},{"t":12,"z":1.25,"v":2.0},{"t":12,"z":1.5,"v":1.95},{"t":12,"z":1.75,"v":1.95},{"t":12,"z":2,"v":1.95},{"t":12,"z":2.25,"v":1.97},{"t":12,"z":2.5,"v":1.97},{"t":12,"z":2.75,"v":2.0},{"t":12,"z":3,"v":2.0},{"t":12,"z":3.25,"v":2.0},{"t":12,"z":3.5,"v":2.0},{"t":12,"z":3.75,"v":1.95},{"t":12,"z":4,"v":1.85},{"t":12,"z":4.25,"v":1.58},{"t":12,"z":4.5,"v":1.22},{"t":12,"z":4.75,"v":1.03},{"t":12,"z":5,"v":0.88},{"t":12,"z":5.25,"v":0.75},{"t":12,"z":5.5,"v":0.68},{"t":12,"z":5.75,"v":0.64},
{"t":12.5,"z":0,"v":2.0},{"t":12.5,"z":0.25,"v":2.75},{"t":12.5,"z":0.5,"v":3.5},{"t":12.5,"z":0.75,"v":3.45},{"t":12.5,"z":1,"v":2.45},{"t":12.5,"z":1.25,"v":2.0},{"t":12.5,"z":1.5,"v":1.95},{"t":12.5,"z":1.75,"v":1.95},{"t":12.5,"z":2,"v":1.95},{"t":12.5,"z":2.25,"v":1.97},{"t":12.5,"z":2.5,"v":1.97},{"t":12.5,"z":2.75,"v":2.0},{"t":12.5,"z":3,"v":2.0},{"t":12.5,"z":3.25,"v":2.0},{"t":12.5,"z":3.5,"v":2.0},{"t":12.5,"z":3.75,"v":1.95},{"t":12.5,"z":4,"v":1.85},{"t":12.5,"z":4.25,"v":1.58},{"t":12.5,"z":4.5,"v":1.22},{"t":12.5,"z":4.75,"v":1.03},{"t":12.5,"z":5,"v":0.88},{"t":12.5,"z":5.25,"v":0.75},{"t":12.5,"z":5.5,"v":0.68},{"t":12.5,"z":5.75,"v":0.64},
{"t":13,"z":0,"v":2.0},{"t":13,"z":0.25,"v":2.75},{"t":13,"z":0.5,"v":3.5},{"t":13,"z":0.75,"v":3.45},{"t":13,"z":1,"v":2.45},{"t":13,"z":1.25,"v":2.0},{"t":13,"z":1.5,"v":1.95},{"t":13,"z":1.75,"v":1.95},{"t":13,"z":2,"v":1.95},{"t":13,"z":2.25,"v":1.97},{"t":13,"z":2.5,"v":1.97},{"t":13,"z":2.75,"v":2.0},{"t":13,"z":3,"v":2.0},{"t":13,"z":3.25,"v":2.0},{"t":13,"z":3.5,"v":2.0},{"t":13,"z":3.75,"v":1.95},{"t":13,"z":4,"v":1.85},{"t":13,"z":4.25,"v":1.58},{"t":13,"z":4.5,"v":1.22},{"t":13,"z":4.75,"v":1.03},{"t":13,"z":5,"v":0.88},{"t":13,"z":5.25,"v":0.75},{"t":13,"z":5.5,"v":0.68},{"t":13,"z":5.75,"v":0.64},
{"t":13.5,"z":0,"v":2.0},{"t":13.5,"z":0.25,"v":2.75},{"t":13.5,"z":0.5,"v":3.5},{"t":13.5,"z":0.75,"v":3.45},{"t":13.5,"z":1,"v":2.45},{"t":13.5,"z":1.25,"v":2.0},{"t":13.5,"z":1.5,"v":1.95},{"t":13.5,"z":1.75,"v":1.95},{"t":13.5,"z":2,"v":1.95},{"t":13.5,"z":2.25,"v":1.97},{"t":13.5,"z":2.5,"v":1.97},{"t":13.5,"z":2.75,"v":2.0},{"t":13.5,"z":3,"v":2.0},{"t":13.5,"z":3.25,"v":2.0},{"t":13.5,"z":3.5,"v":2.0},{"t":13.5,"z":3.75,"v":1.95},{"t":13.5,"z":4,"v":1.85},{"t":13.5,"z":4.25,"v":1.58},{"t":13.5,"z":4.5,"v":1.22},{"t":13.5,"z":4.75,"v":1.03},{"t":13.5,"z":5,"v":0.88},{"t":13.5,"z":5.25,"v":0.75},{"t":13.5,"z":5.5,"v":0.68},{"t":13.5,"z":5.75,"v":0.64},
{"t":14,"z":0,"v":2.0},{"t":14,"z":0.25,"v":2.72},{"t":14,"z":0.5,"v":3.45},{"t":14,"z":0.75,"v":3.4},{"t":14,"z":1,"v":2.45},{"t":14,"z":1.25,"v":2.0},{"t":14,"z":1.5,"v":1.95},{"t":14,"z":1.75,"v":1.95},{"t":14,"z":2,"v":1.95},{"t":14,"z":2.25,"v":1.97},{"t":14,"z":2.5,"v":1.97},{"t":14,"z":2.75,"v":2.0},{"t":14,"z":3,"v":2.0},{"t":14,"z":3.25,"v":2.0},{"t":14,"z":3.5,"v":2.0},{"t":14,"z":3.75,"v":1.95},{"t":14,"z":4,"v":1.85},{"t":14,"z":4.25,"v":1.58},{"t":14,"z":4.5,"v":1.22},{"t":14,"z":4.75,"v":1.03},{"t":14,"z":5,"v":0.88},{"t":14,"z":5.25,"v":0.75},{"t":14,"z":5.5,"v":0.68},{"t":14,"z":5.75,"v":0.64},
{"t":14.5,"z":0,"v":2.0},{"t":14.5,"z":0.25,"v":2.65},{"t":14.5,"z":0.5,"v":3.35},{"t":14.5,"z":0.75,"v":3.3},{"t":14.5,"z":1,"v":2.4},{"t":14.5,"z":1.25,"v":2.0},{"t":14.5,"z":1.5,"v":1.98},{"t":14.5,"z":1.75,"v":2.0},{"t":14.5,"z":2,"v":2.05},{"t":14.5,"z":2.25,"v":2.08},{"t":14.5,"z":2.5,"v":2.1},{"t":14.5,"z":2.75,"v":2.1},{"t":14.5,"z":3,"v":2.1},{"t":14.5,"z":3.25,"v":2.08},{"t":14.5,"z":3.5,"v":2.05},{"t":14.5,"z":3.75,"v":2.0},{"t":14.5,"z":4,"v":1.88},{"t":14.5,"z":4.25,"v":1.6},{"t":14.5,"z":4.5,"v":1.22},{"t":14.5,"z":4.75,"v":1.03},{"t":14.5,"z":5,"v":0.88},{"t":14.5,"z":5.25,"v":0.75},{"t":14.5,"z":5.5,"v":0.68},{"t":14.5,"z":5.75,"v":0.64},
{"t":15,"z":0,"v":2.0},{"t":15,"z":0.25,"v":2.62},{"t":15,"z":0.5,"v":3.3},{"t":15,"z":0.75,"v":3.25},{"t":15,"z":1,"v":2.4},{"t":15,"z":1.25,"v":2.0},{"t":15,"z":1.5,"v":1.98},{"t":15,"z":1.75,"v":2.0},{"t":15,"z":2,"v":2.05},{"t":15,"z":2.25,"v":2.08},{"t":15,"z":2.5,"v":2.1},{"t":15,"z":2.75,"v":2.1},{"t":15,"z":3,"v":2.1},{"t":15,"z":3.25,"v":2.08},{"t":15,"z":3.5,"v":2.05},{"t":15,"z":3.75,"v":2.0},{"t":15,"z":4,"v":1.88},{"t":15,"z":4.25,"v":1.6},{"t":15,"z":4.5,"v":1.22},{"t":15,"z":4.75,"v":1.03},{"t":15,"z":5,"v":0.88},{"t":15,"z":5.25,"v":0.75},{"t":15,"z":5.5,"v":0.68},{"t":15,"z":5.75,"v":0.64},
{"t":15.5,"z":0,"v":2.0},{"t":15.5,"z":0.25,"v":2.55},{"t":15.5,"z":0.5,"v":3.2},{"t":15.5,"z":0.75,"v":3.15},{"t":15.5,"z":1,"v":2.35},{"t":15.5,"z":1.25,"v":2.0},{"t":15.5,"z":1.5,"v":1.98},{"t":15.5,"z":1.75,"v":2.0},{"t":15.5,"z":2,"v":2.05},{"t":15.5,"z":2.25,"v":2.08},{"t":15.5,"z":2.5,"v":2.1},{"t":15.5,"z":2.75,"v":2.1},{"t":15.5,"z":3,"v":2.1},{"t":15.5,"z":3.25,"v":2.08},{"t":15.5,"z":3.5,"v":2.05},{"t":15.5,"z":3.75,"v":2.0},{"t":15.5,"z":4,"v":1.88},{"t":15.5,"z":4.25,"v":1.6},{"t":15.5,"z":4.5,"v":1.22},{"t":15.5,"z":4.75,"v":1.03},{"t":15.5,"z":5,"v":0.88},{"t":15.5,"z":5.25,"v":0.75},{"t":15.5,"z":5.5,"v":0.68},{"t":15.5,"z":5.75,"v":0.64},
{"t":16,"z":0,"v":1.95},{"t":16,"z":0.25,"v":2.4},{"t":16,"z":0.5,"v":3.0},{"t":16,"z":0.75,"v":2.95},{"t":16,"z":1,"v":2.3},{"t":16,"z":1.25,"v":2.0},{"t":16,"z":1.5,"v":1.98},{"t":16,"z":1.75,"v":2.0},{"t":16,"z":2,"v":2.05},{"t":16,"z":2.25,"v":2.08},{"t":16,"z":2.5,"v":2.1},{"t":16,"z":2.75,"v":2.1},{"t":16,"z":3,"v":2.1},{"t":16,"z":3.25,"v":2.08},{"t":16,"z":3.5,"v":2.05},{"t":16,"z":3.75,"v":2.0},{"t":16,"z":4,"v":1.88},{"t":16,"z":4.25,"v":1.6},{"t":16,"z":4.5,"v":1.23},{"t":16,"z":4.75,"v":1.03},{"t":16,"z":5,"v":0.88},{"t":16,"z":5.25,"v":0.75},{"t":16,"z":5.5,"v":0.68},{"t":16,"z":5.75,"v":0.64},
{"t":16.5,"z":0,"v":1.95},{"t":16.5,"z":0.25,"v":2.25},{"t":16.5,"z":0.5,"v":2.7},{"t":16.5,"z":0.75,"v":2.65},{"t":16.5,"z":1,"v":2.2},{"t":16.5,"z":1.25,"v":1.98},{"t":16.5,"z":1.5,"v":1.98},{"t":16.5,"z":1.75,"v":2.0},{"t":16.5,"z":2,"v":2.05},{"t":16.5,"z":2.25,"v":2.08},{"t":16.5,"z":2.5,"v":2.1},{"t":16.5,"z":2.75,"v":2.1},{"t":16.5,"z":3,"v":2.1},{"t":16.5,"z":3.25,"v":2.08},{"t":16.5,"z":3.5,"v":2.05},{"t":16.5,"z":3.75,"v":2.0},{"t":16.5,"z":4,"v":1.88},{"t":16.5,"z":4.25,"v":1.6},{"t":16.5,"z":4.5,"v":1.24},{"t":16.5,"z":4.75,"v":1.04},{"t":16.5,"z":5,"v":0.89},{"t":16.5,"z":5.25,"v":0.75},{"t":16.5,"z":5.5,"v":0.68},{"t":16.5,"z":5.75,"v":0.64},
{"t":17,"z":0,"v":1.9},{"t":17,"z":0.25,"v":2.1},{"t":17,"z":0.5,"v":2.35},{"t":17,"z":0.75,"v":2.35},{"t":17,"z":1,"v":2.1},{"t":17,"z":1.25,"v":1.98},{"t":17,"z":1.5,"v":2.0},{"t":17,"z":1.75,"v":2.05},{"t":17,"z":2,"v":2.1},{"t":17,"z":2.25,"v":2.15},{"t":17,"z":2.5,"v":2.15},{"t":17,"z":2.75,"v":2.15},{"t":17,"z":3,"v":2.12},{"t":17,"z":3.25,"v":2.08},{"t":17,"z":3.5,"v":2.05},{"t":17,"z":3.75,"v":2.0},{"t":17,"z":4,"v":1.9},{"t":17,"z":4.25,"v":1.62},{"t":17,"z":4.5,"v":1.25},{"t":17,"z":4.75,"v":1.05},{"t":17,"z":5,"v":0.9},{"t":17,"z":5.25,"v":0.76},{"t":17,"z":5.5,"v":0.69},{"t":17,"z":5.75,"v":0.65},
{"t":17.5,"z":0,"v":1.8},{"t":17.5,"z":0.25,"v":1.9},{"t":17.5,"z":0.5,"v":2.05},{"t":17.5,"z":0.75,"v":2.05},{"t":17.5,"z":1,"v":2.0},{"t":17.5,"z":1.25,"v":1.98},{"t":17.5,"z":1.5,"v":2.05},{"t":17.5,"z":1.75,"v":2.12},{"t":17.5,"z":2,"v":2.2},{"t":17.5,"z":2.25,"v":2.25},{"t":17.5,"z":2.5,"v":2.25},{"t":17.5,"z":2.75,"v":2.2},{"t":17.5,"z":3,"v":2.15},{"t":17.5,"z":3.25,"v":2.1},{"t":17.5,"z":3.5,"v":2.05},{"t":17.5,"z":3.75,"v":2.0},{"t":17.5,"z":4,"v":1.9},{"t":17.5,"z":4.25,"v":1.68},{"t":17.5,"z":4.5,"v":1.3},{"t":17.5,"z":4.75,"v":1.08},{"t":17.5,"z":5,"v":0.92},{"t":17.5,"z":5.25,"v":0.77},{"t":17.5,"z":5.5,"v":0.7},{"t":17.5,"z":5.75,"v":0.65},
{"t":18,"z":0,"v":1.6},{"t":18,"z":0.25,"v":1.7},{"t":18,"z":0.5,"v":1.75},{"t":18,"z":0.75,"v":1.75},{"t":18,"z":1,"v":1.8},{"t":18,"z":1.25,"v":1.85},{"t":18,"z":1.5,"v":2.05},{"t":18,"z":1.75,"v":2.25},{"t":18,"z":2,"v":2.4},{"t":18,"z":2.25,"v":2.45},{"t":18,"z":2.5,"v":2.45},{"t":18,"z":2.75,"v":2.4},{"t":18,"z":3,"v":2.3},{"t":18,"z":3.25,"v":2.2},{"t":18,"z":3.5,"v":2.1},{"t":18,"z":3.75,"v":2.05},{"t":18,"z":4,"v":1.95},{"t":18,"z":4.25,"v":1.75},{"t":18,"z":4.5,"v":1.35},{"t":18,"z":4.75,"v":1.12},{"t":18,"z":5,"v":0.95},{"t":18,"z":5.25,"v":0.8},{"t":18,"z":5.5,"v":0.7},{"t":18,"z":5.75,"v":0.66},
{"t":18.5,"z":0,"v":1.5},{"t":18.5,"z":0.25,"v":1.5},{"t":18.5,"z":0.5,"v":1.5},{"t":18.5,"z":0.75,"v":1.5},{"t":18.5,"z":1,"v":1.55},{"t":18.5,"z":1.25,"v":1.7},{"t":18.5,"z":1.5,"v":2.1},{"t":18.5,"z":1.75,"v":2.45},{"t":18.5,"z":2,"v":2.6},{"t":18.5,"z":2.25,"v":2.65},{"t":18.5,"z":2.5,"v":2.6},{"t":18.5,"z":2.75,"v":2.55},{"t":18.5,"z":3,"v":2.45},{"t":18.5,"z":3.25,"v":2.35},{"t":18.5,"z":3.5,"v":2.2},{"t":18.5,"z":3.75,"v":2.1},{"t":18.5,"z":4,"v":2.0},{"t":18.5,"z":4.25,"v":1.8},{"t":18.5,"z":4.5,"v":1.4},{"t":18.5,"z":4.75,"v":1.15},{"t":18.5,"z":5,"v":0.98},{"t":18.5,"z":5.25,"v":0.82},{"t":18.5,"z":5.5,"v":0.72},{"t":18.5,"z":5.75,"v":0.67},
{"t":19,"z":0,"v":1.4},{"t":19,"z":0.25,"v":1.35},{"t":19,"z":0.5,"v":1.25},{"t":19,"z":0.75,"v":1.2},{"t":19,"z":1,"v":1.25},{"t":19,"z":1.25,"v":1.45},{"t":19,"z":1.5,"v":2.0},{"t":19,"z":1.75,"v":2.6},{"t":19,"z":2,"v":2.85},{"t":19,"z":2.25,"v":2.9},{"t":19,"z":2.5,"v":2.85},{"t":19,"z":2.75,"v":2.75},{"t":19,"z":3,"v":2.6},{"t":19,"z":3.25,"v":2.45},{"t":19,"z":3.5,"v":2.3},{"t":19,"z":3.75,"v":2.15},{"t":19,"z":4,"v":2.0},{"t":19,"z":4.25,"v":1.85},{"t":19,"z":4.5,"v":1.4},{"t":19,"z":4.75,"v":1.18},{"t":19,"z":5,"v":1.0},{"t":19,"z":5.25,"v":0.83},{"t":19,"z":5.5,"v":0.72},{"t":19,"z":5.75,"v":0.68},
{"t":19.5,"z":0,"v":1.35},{"t":19.5,"z":0.25,"v":1.2},{"t":19.5,"z":0.5,"v":1.0},{"t":19.5,"z":0.75,"v":0.95},{"t":19.5,"z":1,"v":1.0},{"t":19.5,"z":1.25,"v":1.25},{"t":19.5,"z":1.5,"v":1.9},{"t":19.5,"z":1.75,"v":2.7},{"t":19.5,"z":2,"v":3.0},{"t":19.5,"z":2.25,"v":3.05},{"t":19.5,"z":2.5,"v":3.0},{"t":19.5,"z":2.75,"v":2.9},{"t":19.5,"z":3,"v":2.75},{"t":19.5,"z":3.25,"v":2.55},{"t":19.5,"z":3.5,"v":2.35},{"t":19.5,"z":3.75,"v":2.2},{"t":19.5,"z":4,"v":2.05},{"t":19.5,"z":4.25,"v":1.88},{"t":19.5,"z":4.5,"v":1.42},{"t":19.5,"z":4.75,"v":1.2},{"t":19.5,"z":5,"v":1.02},{"t":19.5,"z":5.25,"v":0.84},{"t":19.5,"z":5.5,"v":0.73},{"t":19.5,"z":5.75,"v":0.68},
{"t":20,"z":0,"v":1.3},{"t":20,"z":0.25,"v":1.05},{"t":20,"z":0.5,"v":0.85},{"t":20,"z":0.75,"v":0.8},{"t":20,"z":1,"v":0.85},{"t":20,"z":1.25,"v":1.15},{"t":20,"z":1.5,"v":1.8},{"t":20,"z":1.75,"v":2.7},{"t":20,"z":2,"v":3.15},{"t":20,"z":2.25,"v":3.25},{"t":20,"z":2.5,"v":3.2},{"t":20,"z":2.75,"v":3.1},{"t":20,"z":3,"v":2.9},{"t":20,"z":3.25,"v":2.65},{"t":20,"z":3.5,"v":2.45},{"t":20,"z":3.75,"v":2.25},{"t":20,"z":4,"v":2.05},{"t":20,"z":4.25,"v":1.9},{"t":20,"z":4.5,"v":1.45},{"t":20,"z":4.75,"v":1.22},{"t":20,"z":5,"v":1.04},{"t":20,"z":5.25,"v":0.85},{"t":20,"z":5.5,"v":0.74},{"t":20,"z":5.75,"v":0.69},
{"t":20.5,"z":0,"v":1.25},{"t":20.5,"z":0.25,"v":1.0},{"t":20.5,"z":0.5,"v":0.78},{"t":20.5,"z":0.75,"v":0.72},{"t":20.5,"z":1,"v":0.78},{"t":20.5,"z":1.25,"v":1.1},{"t":20.5,"z":1.5,"v":1.75},{"t":20.5,"z":1.75,"v":2.7},{"t":20.5,"z":2,"v":3.25},{"t":20.5,"z":2.25,"v":3.4},{"t":20.5,"z":2.5,"v":3.4},{"t":20.5,"z":2.75,"v":3.25},{"t":20.5,"z":3,"v":3.05},{"t":20.5,"z":3.25,"v":2.8},{"t":20.5,"z":3.5,"v":2.5},{"t":20.5,"z":3.75,"v":2.3},{"t":20.5,"z":4,"v":2.08},{"t":20.5,"z":4.25,"v":1.9},{"t":20.5,"z":4.5,"v":1.45},{"t":20.5,"z":4.75,"v":1.22},{"t":20.5,"z":5,"v":1.05},{"t":20.5,"z":5.25,"v":0.85},{"t":20.5,"z":5.5,"v":0.74},{"t":20.5,"z":5.75,"v":0.69},
{"t":21,"z":0,"v":1.25},{"t":21,"z":0.25,"v":1.0},{"t":21,"z":0.5,"v":0.78},{"t":21,"z":0.75,"v":0.72},{"t":21,"z":1,"v":0.78},{"t":21,"z":1.25,"v":1.1},{"t":21,"z":1.5,"v":1.75},{"t":21,"z":1.75,"v":2.7},{"t":21,"z":2,"v":3.25},{"t":21,"z":2.25,"v":3.4},{"t":21,"z":2.5,"v":3.4},{"t":21,"z":2.75,"v":3.25},{"t":21,"z":3,"v":3.05},{"t":21,"z":3.25,"v":2.8},{"t":21,"z":3.5,"v":2.5},{"t":21,"z":3.75,"v":2.3},{"t":21,"z":4,"v":2.08},{"t":21,"z":4.25,"v":1.9},{"t":21,"z":4.5,"v":1.45},{"t":21,"z":4.75,"v":1.22},{"t":21,"z":5,"v":1.05},{"t":21,"z":5.25,"v":0.85},{"t":21,"z":5.5,"v":0.74},{"t":21,"z":5.75,"v":0.69},
{"t":21.5,"z":0,"v":1.22},{"t":21.5,"z":0.25,"v":0.98},{"t":21.5,"z":0.5,"v":0.77},{"t":21.5,"z":0.75,"v":0.71},{"t":21.5,"z":1,"v":0.77},{"t":21.5,"z":1.25,"v":1.08},{"t":21.5,"z":1.5,"v":1.75},{"t":21.5,"z":1.75,"v":2.72},{"t":21.5,"z":2,"v":3.28},{"t":21.5,"z":2.25,"v":3.45},{"t":21.5,"z":2.5,"v":3.45},{"t":21.5,"z":2.75,"v":3.3},{"t":21.5,"z":3,"v":3.1},{"t":21.5,"z":3.25,"v":2.85},{"t":21.5,"z":3.5,"v":2.55},{"t":21.5,"z":3.75,"v":2.32},{"t":21.5,"z":4,"v":2.1},{"t":21.5,"z":4.25,"v":1.9},{"t":21.5,"z":4.5,"v":1.45},{"t":21.5,"z":4.75,"v":1.22},{"t":21.5,"z":5,"v":1.05},{"t":21.5,"z":5.25,"v":0.85},{"t":21.5,"z":5.5,"v":0.74},{"t":21.5,"z":5.75,"v":0.69},
{"t":22,"z":0,"v":1.2},{"t":22,"z":0.25,"v":0.95},{"t":22,"z":0.5,"v":0.75},{"t":22,"z":0.75,"v":0.7},{"t":22,"z":1,"v":0.75},{"t":22,"z":1.25,"v":1.05},{"t":22,"z":1.5,"v":1.75},{"t":22,"z":1.75,"v":2.75},{"t":22,"z":2,"v":3.3},{"t":22,"z":2.25,"v":3.5},{"t":22,"z":2.5,"v":3.5},{"t":22,"z":2.75,"v":3.35},{"t":22,"z":3,"v":3.15},{"t":22,"z":3.25,"v":2.9},{"t":22,"z":3.5,"v":2.6},{"t":22,"z":3.75,"v":2.35},{"t":22,"z":4,"v":2.1},{"t":22,"z":4.25,"v":1.9},{"t":22,"z":4.5,"v":1.45},{"t":22,"z":4.75,"v":1.22},{"t":22,"z":5,"v":1.05},{"t":22,"z":5.25,"v":0.85},{"t":22,"z":5.5,"v":0.74},{"t":22,"z":5.75,"v":0.69},
{"t":22.5,"z":0,"v":1.2},{"t":22.5,"z":0.25,"v":0.95},{"t":22.5,"z":0.5,"v":0.75},{"t":22.5,"z":0.75,"v":0.7},{"t":22.5,"z":1,"v":0.75},{"t":22.5,"z":1.25,"v":1.05},{"t":22.5,"z":1.5,"v":1.75},{"t":22.5,"z":1.75,"v":2.75},{"t":22.5,"z":2,"v":3.3},{"t":22.5,"z":2.25,"v":3.5},{"t":22.5,"z":2.5,"v":3.5},{"t":22.5,"z":2.75,"v":3.35},{"t":22.5,"z":3,"v":3.15},{"t":22.5,"z":3.25,"v":2.9},{"t":22.5,"z":3.5,"v":2.6},{"t":22.5,"z":3.75,"v":2.35},{"t":22.5,"z":4,"v":2.1},{"t":22.5,"z":4.25,"v":1.9},{"t":22.5,"z":4.5,"v":1.45},{"t":22.5,"z":4.75,"v":1.22},{"t":22.5,"z":5,"v":1.05},{"t":22.5,"z":5.25,"v":0.85},{"t":22.5,"z":5.5,"v":0.74},{"t":22.5,"z":5.75,"v":0.69},
{"t":23,"z":0,"v":1.2},{"t":23,"z":0.25,"v":0.95},{"t":23,"z":0.5,"v":0.75},{"t":23,"z":0.75,"v":0.7},{"t":23,"z":1,"v":0.75},{"t":23,"z":1.25,"v":1.05},{"t":23,"z":1.5,"v":1.75},{"t":23,"z":1.75,"v":2.75},{"t":23,"z":2,"v":3.3},{"t":23,"z":2.25,"v":3.5},{"t":23,"z":2.5,"v":3.5},{"t":23,"z":2.75,"v":3.35},{"t":23,"z":3,"v":3.15},{"t":23,"z":3.25,"v":2.9},{"t":23,"z":3.5,"v":2.6},{"t":23,"z":3.75,"v":2.35},{"t":23,"z":4,"v":2.1},{"t":23,"z":4.25,"v":1.9},{"t":23,"z":4.5,"v":1.45},{"t":23,"z":4.75,"v":1.22},{"t":23,"z":5,"v":1.05},{"t":23,"z":5.25,"v":0.85},{"t":23,"z":5.5,"v":0.74},{"t":23,"z":5.75,"v":0.69},
{"t":23.5,"z":0,"v":1.18},{"t":23.5,"z":0.25,"v":0.95},{"t":23.5,"z":0.5,"v":0.75},{"t":23.5,"z":0.75,"v":0.7},{"t":23.5,"z":1,"v":0.75},{"t":23.5,"z":1.25,"v":1.05},{"t":23.5,"z":1.5,"v":1.75},{"t":23.5,"z":1.75,"v":2.75},{"t":23.5,"z":2,"v":3.3},{"t":23.5,"z":2.25,"v":3.45},{"t":23.5,"z":2.5,"v":3.45},{"t":23.5,"z":2.75,"v":3.3},{"t":23.5,"z":3,"v":3.1},{"t":23.5,"z":3.25,"v":2.85},{"t":23.5,"z":3.5,"v":2.55},{"t":23.5,"z":3.75,"v":2.3},{"t":23.5,"z":4,"v":2.1},{"t":23.5,"z":4.25,"v":1.9},{"t":23.5,"z":4.5,"v":1.45},{"t":23.5,"z":4.75,"v":1.22},{"t":23.5,"z":5,"v":1.05},{"t":23.5,"z":5.25,"v":0.85},{"t":23.5,"z":5.5,"v":0.74},{"t":23.5,"z":5.75,"v":0.69}
]},
"vconcat":[
{"width":358,"height":89,
"title":{"text":"Monthly averaged water vapour content","offset":-12},
"layer":[
{"data":{"name":"wv"},"mark":{"type":"rect","binSpacing":0,"strokeWidth":0.6},
"encoding":{
"x":{"field":"t","type":"quantitative","bin":{"step":0.5,"extent":[0,24]},"scale":{"domain":[0,24],"nice":false},"axis":{"values":[0,6,12,18,24],"title":"Hours","format":"d","labelPadding":2,"titlePadding":1}},
"y":{"field":"z","type":"quantitative","bin":{"step":0.25,"extent":[0,6]},"scale":{"domain":[0,6],"nice":false},"axis":{"values":[0,2,4,6],"title":"z (km)","format":"d","labelPadding":4,"titlePadding":4}},
"color":{"aggregate":"mean","field":"v","type":"quantitative","scale":{"domain":[0,4],"clamp":true,"range":["#2a2d80","#2c3c93","#2e4aa5","#2f5cb5","#2f6fc4","#2f8ad2","#33a8de","#4ebfd6","#8ec98a","#c2d445","#f0e224","#f8bf1e","#f59a24","#f0742a","#e43d26","#c8222a","#9a1d1f"]},
"legend":{"orient":"none","legendX":363,"legendY":-20,"title":"M̅ᵥ (g m⁻³)","titleFontSize":12,"titleFontWeight":"normal","titleColor":"#222","titleAnchor":"middle","titlePadding":5,"values":[0,2,4],"gradientLength":89,"gradientThickness":19,"labelFontSize":15,"labelColor":"#222","labelOffset":3,"gradientStrokeColor":"#444","gradientStrokeWidth":1,"direction":"vertical","labelOverlap":false,"padding":0}},
"stroke":{"aggregate":"mean","field":"v","type":"quantitative","scale":{"domain":[0,4],"clamp":true,"range":["#2a2d80","#2c3c93","#2e4aa5","#2f5cb5","#2f6fc4","#2f8ad2","#33a8de","#4ebfd6","#8ec98a","#c2d445","#f0e224","#f8bf1e","#f59a24","#f0742a","#e43d26","#c8222a","#9a1d1f"]},"legend":null}
}},
{"data":{"name":"hrs"},"mark":{"type":"rule","strokeDash":[1,2.5],"color":"#222","strokeWidth":0.8,"opacity":0.75},"encoding":{"x":{"field":"t","type":"quantitative"}}},
{"data":{"name":"mk"},"mark":{"type":"rule","strokeDash":[5,3],"color":"#222","strokeWidth":1.1},"encoding":{"x":{"field":"t","type":"quantitative"},"y":{"datum":0},"y2":{"datum":4.55}}},
{"data":{"name":"box"},"mark":{"type":"rect","fill":"white"},"encoding":{"x":{"field":"x0","type":"quantitative"},"x2":{"field":"x1"},"y":{"field":"y0","type":"quantitative"},"y2":{"field":"y1"}}},
{"data":{"name":"box"},"mark":{"type":"text","fontSize":15,"align":"center","baseline":"middle","color":"#111"},"encoding":{"x":{"field":"tx","type":"quantitative"},"y":{"field":"ty","type":"quantitative"},"text":{"field":"lab"}}}
]},
{"width":358,"height":88,
"title":{"text":"Monthly averaged integrated water vapour content","offset":-4},
"layer":[
{"data":{"name":"hrs"},"mark":{"type":"rule","strokeDash":[1,2],"color":"#999","strokeWidth":0.8},"encoding":{"x":{"field":"t","type":"quantitative","scale":{"domain":[0,24],"nice":false},"axis":{"values":[0,6,12,18,24],"title":"Hours","format":"d","labelPadding":2,"titlePadding":1}}}},
{"data":{"name":"mk"},"mark":{"type":"rule","strokeDash":[5,3],"color":"#333","strokeWidth":1},"encoding":{"x":{"field":"t","type":"quantitative"},"y":{"datum":0,"type":"quantitative","scale":{"domain":[0,2],"nice":false},"axis":{"values":[0,1,2],"title":"I̅W̅V̅ (g cm⁻²)","titleFontSize":14,"format":"d","labelPadding":4,"titlePadding":4}},"y2":{"datum":1.45}}},
{"data":{"name":"iwv"},"mark":{"type":"line","strokeWidth":2},"encoding":{"x":{"field":"t","type":"quantitative"},"y":{"field":"w","type":"quantitative"},
"color":{"field":"s","type":"nominal","scale":{"domain":["Total","z < 1.5 km","z > 1.5 km"],"range":["#1a1a1a","#2d4aa8","#ec2e27"]},
"legend":{"orient":"none","legendX":188,"legendY":2,"title":null,"symbolType":"M-1.6,0H1.6","symbolStrokeWidth":2,"symbolSize":64,"labelFontSize":9,"labelOffset":6,"rowPadding":-1,"padding":2,"strokeColor":"#333","fillColor":"white","labelLimit":100,"encode":{"labels":{"update":{"fill":{"signal":"datum.label === 'Total' ? '#222' : datum.label === 'z < 1.5 km' ? '#3a6ad0' : '#e0302a'"}}}}}}}},
{"data":{"name":"lblb"},"mark":{"type":"text","fontSize":15,"align":"center","baseline":"middle","color":"#111"},"encoding":{"x":{"field":"tx","type":"quantitative"},"y":{"field":"ty","type":"quantitative"},"text":{"field":"lab"}}}
]}
]
}
